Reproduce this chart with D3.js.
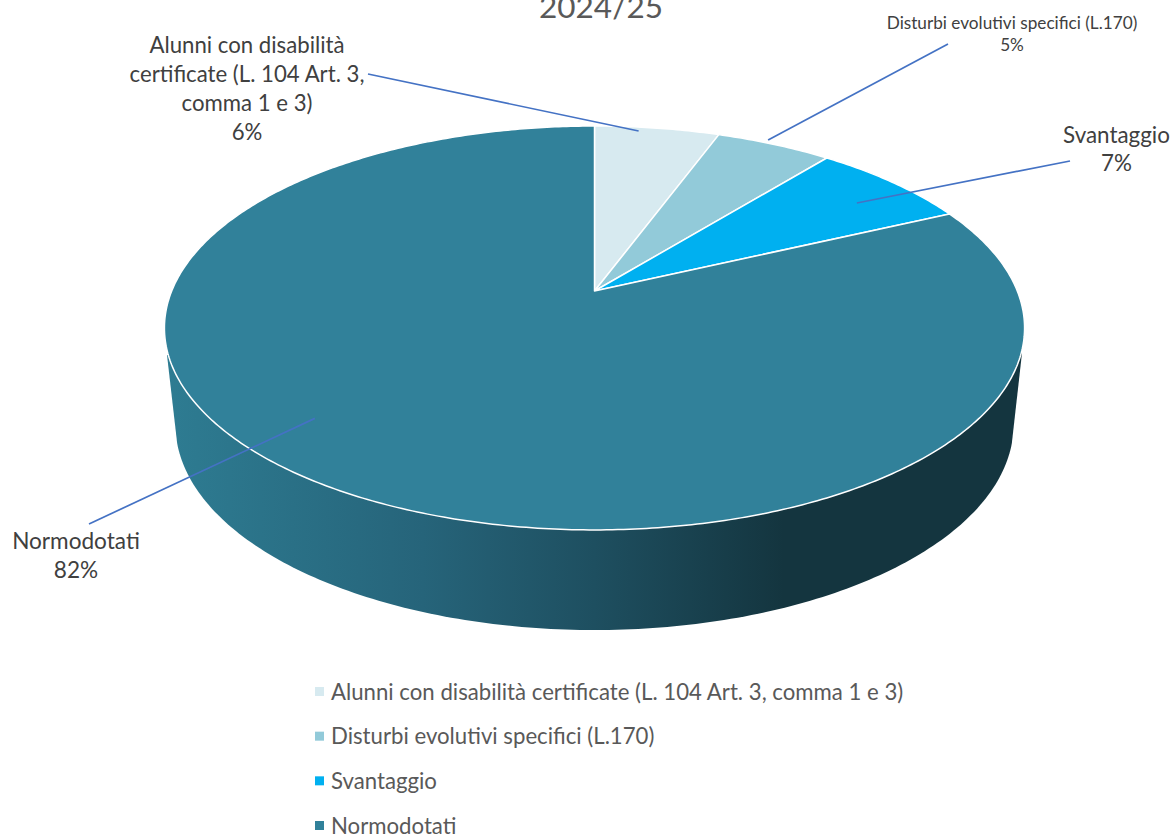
<!DOCTYPE html>
<html>
<head>
<meta charset="utf-8">
<script src="https://cdn.jsdelivr.net/npm/d3@7"></script>
<style>
  html, body { margin: 0; padding: 0; background: #fff; overflow: hidden; }
  svg { display: block; }
  text { font-family: Lato, "Open Sans", sans-serif; }
</style>
</head>
<body>
<div id="chart"></div>
<script>
const titleText = "2024/25";
const categories = [
    "Alunni con disabilità certificate (L. 104 Art. 3, comma 1 e 3)",
    "Disturbi evolutivi specifici (L.170)",
    "Svantaggio",
    "Normodotati"
];
const values = [5.6, 5.2, 7.2, 82.0];
const percentLabels = ["6%", "5%", "7%", "82%"];
const sliceColors = ["#d7eaf0", "#92cad9", "#00b0f0", "#31819a"];
const labelLines = [
    ["Alunni con disabilità", "certificate (L. 104 Art. 3,", "comma 1 e 3)"],
    ["Disturbi evolutivi specifici (L.170)"],
    ["Svantaggio"],
    ["Normodotati"]
];

const width = 1176, height = 837;
const labelColor = "#404040", legendColor = "#595959", leaderColor = "#4472c4";

// the top face is a circle seen in perspective, so the centre sits above the ellipse middle
const top3d = { x: 594.5, y: 291, a: 422.8, b: 195.2, k: 0.183 };
const wall = { x: 594.5, y: 425, rx: 419, ry: 205 };

function project(angle, r = 1) {
    const d = 1 + top3d.k * r * Math.cos(angle);
    return [
        top3d.x + top3d.a * r * Math.sin(angle) / d,
        top3d.y - top3d.b * r * Math.cos(angle) / d
    ];
}

const svg = d3.select("#chart").append("svg")
    .attr("width", width)
    .attr("height", height);

const defs = svg.append("defs");
const wallGrad = defs.append("linearGradient")
    .attr("id", "wallGrad")
    .attr("gradientUnits", "userSpaceOnUse")
    .attr("x1", 165).attr("x2", 1024).attr("y1", 0).attr("y2", 0);
wallGrad.selectAll("stop")
    .data([[0, "#2e7c92"], [0.3, "#26647a"], [0.5, "#1e4f60"], [0.72, "#14353f"], [1, "#14353f"]])
    .join("stop")
    .attr("offset", d => d[0])
    .attr("stop-color", d => d[1]);

const pie = d3.pie().sort(null).value(d => d).startAngle(0).endAngle(2 * Math.PI);
const arcs = pie(values);
const lineGen = d3.line();

// side wall: lower ellipse plus the straight edges up to the top rim
const wallAngles = d3.range(-85, 85.5, 1).map(d => d * Math.PI / 180);
const wallBottom = wallAngles.map(t => [wall.x + wall.rx * Math.sin(t), wall.y + wall.ry * Math.cos(t)]);
svg.append("path")
    .attr("d", lineGen([[wall.x - 427.5, 355], ...wallBottom, [wall.x + 427.5, 353]]) + "Z")
    .attr("fill", "url(#wallGrad)");

// top face slices
svg.append("g").selectAll("path")
    .data(arcs)
    .join("path")
    .attr("d", d => {
        const n = Math.ceil((d.endAngle - d.startAngle) * 90);
        const rim = d3.range(n + 1).map(i => project(d.startAngle + (d.endAngle - d.startAngle) * i / n));
        return lineGen([[top3d.x, top3d.y], ...rim]) + "Z";
    })
    .attr("fill", (d, i) => sliceColors[i])
    .attr("stroke", "#fff")
    .attr("stroke-width", 1.5)
    .attr("stroke-linejoin", "round");

// leader lines, anchored inside each slice (share of the slice's sweep, radius)
function inSlice(d, share, r) {
    return project(d.startAngle + (d.endAngle - d.startAngle) * share, r);
}
const leaders = [
    { from: [368, 74], at: inSlice(arcs[0], 0.36, 0.972) },
    { from: [948, 44], at: inSlice(arcs[1], 0.417, 1.02) },
    { from: [1070, 161], at: inSlice(arcs[2], 0.583, 0.836) },
    { from: [89, 524], at: inSlice(arcs[3], 0.544, 0.83) }
];
svg.append("g").selectAll("line")
    .data(leaders)
    .join("line")
    .attr("x1", d => d.from[0]).attr("y1", d => d.from[1])
    .attr("x2", d => d.at[0]).attr("y2", d => d.at[1])
    .attr("stroke", leaderColor)
    .attr("stroke-width", 1.7);

// title, cut off by the top of the picture as in the source
svg.append("text")
    .attr("x", 601).attr("y", 18)
    .attr("text-anchor", "middle")
    .attr("font-size", 31.5)
    .attr("fill", legendColor)
    .text(titleText);

// data labels
const labelPos = [
    { x: 247, y: 53, size: 22.2, lh: 29 },
    { x: 1012, y: 29, size: 17.2, lh: 22 },
    { x: 1116.5, y: 143, size: 22.4, lh: 28 },
    { x: 76, y: 549, size: 22.6, lh: 29 }
];
const labels = svg.append("g").selectAll("text")
    .data(categories)
    .join("text")
    .attr("text-anchor", "middle")
    .attr("fill", labelColor)
    .attr("font-size", (d, i) => labelPos[i].size);
labels.each(function (d, i) {
    const p = labelPos[i];
    d3.select(this).selectAll("tspan")
        .data([...labelLines[i], percentLabels[i]])
        .join("tspan")
        .attr("x", p.x)
        .attr("y", (t, j) => p.y + j * p.lh)
        .text(t => t);
});

// legend
const legendY = d3.scalePoint().domain(categories).range([692, 826]);
const legend = svg.append("g").selectAll("g")
    .data(categories)
    .join("g")
    .attr("transform", d => `translate(0,${legendY(d)})`);
legend.append("rect")
    .attr("x", 315).attr("y", -5)
    .attr("width", 9).attr("height", 9)
    .attr("fill", (d, i) => sliceColors[i]);
legend.append("text")
    .attr("x", 331).attr("y", 7.5)
    .attr("font-size", 22.2)
    .attr("fill", legendColor)
    .text(d => d);
</script>
</body>
</html>
